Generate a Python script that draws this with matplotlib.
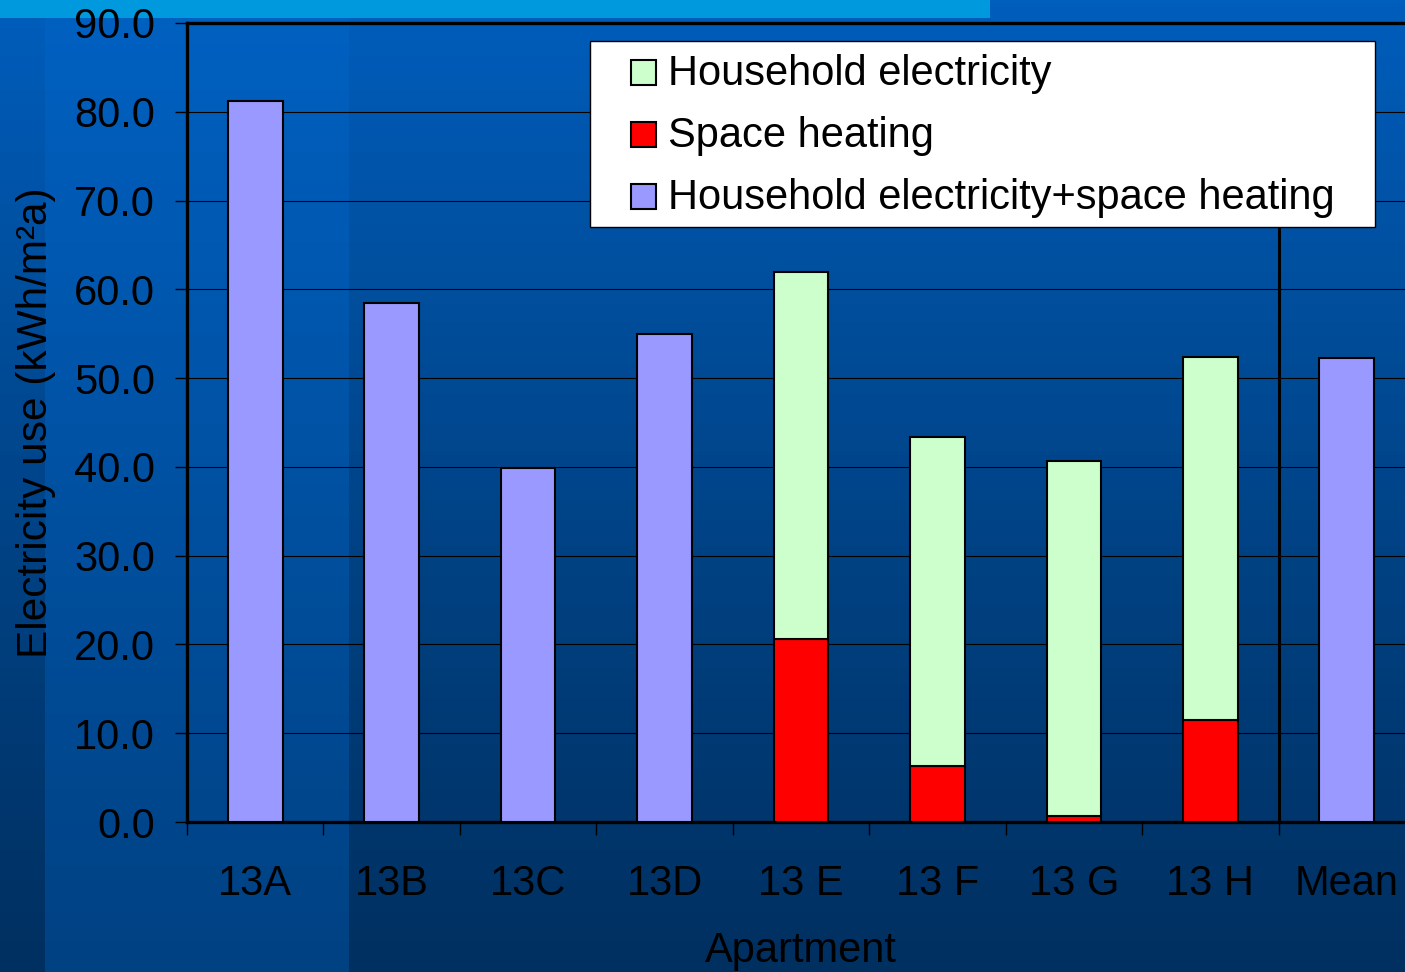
import numpy as np
import matplotlib
matplotlib.use('Agg')
import matplotlib.pyplot as plt
from matplotlib.patches import Rectangle

plt.rcParams['font.family'] = ['Liberation Sans', 'DejaVu Sans']

apartments = ['13A', '13B', '13C', '13D', '13 E', '13 F', '13 G', '13 H', 'Mean']
# apartments with only a combined meter
combined_idx = [0, 1, 2, 3, 8]
combined = [81.2, 58.5, 39.9, 55.0, 52.3]
# apartments with separate metering of space heating
split_idx = [4, 5, 6, 7]
space_heating = [20.6, 6.3, 0.7, 11.5]
household = [41.3, 37.1, 40.0, 40.9]

legend_labels = ['Household electricity', 'Space heating', 'Household electricity+space heating']
c_house = '#CCFFCC'
c_heat = '#FF0000'
c_comb = '#9999FF'

W, H = 1405, 972
fig = plt.figure(figsize=(W / 100, H / 100), dpi=100)

# slide background
bg = fig.add_axes([0, 0, 1, 1], zorder=-10)
bg.set_xlim(0, W)
bg.set_ylim(H, 0)
bg.axis('off')
top = np.array([0x00, 0x61, 0xC2]) / 255
bot = np.array([0x00, 0x41, 0x82]) / 255
t = np.linspace(0, 1, 256)[:, None, None]
grad = top * (1 - t) + bot * t
bg.imshow(grad, extent=[0, W, H, 0], aspect='auto')
# darker panels, darkening more towards the bottom
shade = np.zeros((256, 1, 4))
shade[:, 0, 3] = np.linspace(0.03, 0.26, 256)
bg.imshow(shade, extent=[0, 45, H, 0], aspect='auto')
bg.imshow(shade, extent=[349, W, H, 0], aspect='auto')
bg.add_patch(Rectangle((0, 0), 990, 18, color='#0099DD', lw=0))
bg.set_xlim(0, W)
bg.set_ylim(H, 0)

ax = fig.add_axes([187 / W, (H - 822) / H, (1415 - 187) / W, (822 - 23) / H])
ax.set_facecolor('none')

x = np.arange(len(apartments))
bw = 0.4
ax.bar(x[combined_idx], combined, bw, color=c_comb, edgecolor='black', linewidth=1.5, zorder=3)
ax.bar(x[split_idx], space_heating, bw, color=c_heat, edgecolor='black', linewidth=1.5, zorder=3)
ax.bar(x[split_idx], household, bw, bottom=space_heating, color=c_house,
       edgecolor='black', linewidth=1.5, zorder=3)

# separator before the mean, stops under the legend
ax.axvline(7.5, ymax=0.745, color='black', lw=2.2, zorder=2)

ax.set_xlim(-0.5, 8.5)
ax.set_ylim(0, 90)
ax.set_yticks(np.arange(0, 91, 10))
ax.set_yticklabels([f'{v:.1f}' for v in np.arange(0, 91, 10)], fontsize=30)
ax.set_xticks(x)
ax.set_xticklabels(apartments, fontsize=30)
ax.set_xticks(np.arange(-0.5, 9, 1), minor=True)
ax.tick_params(axis='x', which='major', length=0, pad=30)
ax.tick_params(axis='x', which='minor', length=9, width=1, direction='out')
ax.tick_params(axis='y', length=9, width=1, pad=14)
ax.grid(axis='y', color='black', lw=0.8, zorder=1)
ax.set_axisbelow(True)
for s in ['left', 'bottom', 'top']:
    ax.spines[s].set_linewidth(2.4)
ax.spines['right'].set_visible(False)

ax.set_xlabel('Apartment', fontsize=30, labelpad=20)
ax.set_ylabel('Electricity use (kWh/m²a)', fontsize=30.5, labelpad=13)

# legend box
lg = fig.add_axes([0, 0, 1, 1], zorder=10)
lg.set_xlim(0, W)
lg.set_ylim(H, 0)
lg.axis('off')
lg.add_patch(Rectangle((590, 41), 785, 186, facecolor='white', edgecolor='black', lw=1))
for i, (lab, col) in enumerate(zip(legend_labels, [c_house, c_heat, c_comb])):
    yc = 73 + 62 * i
    lg.add_patch(Rectangle((631, yc - 12.5), 25, 25, facecolor=col, edgecolor='black', lw=1.5))
    lg.text(668, yc + 1, lab, fontsize=30, va='center', ha='left')

fig.savefig('out.png', dpi=100)
